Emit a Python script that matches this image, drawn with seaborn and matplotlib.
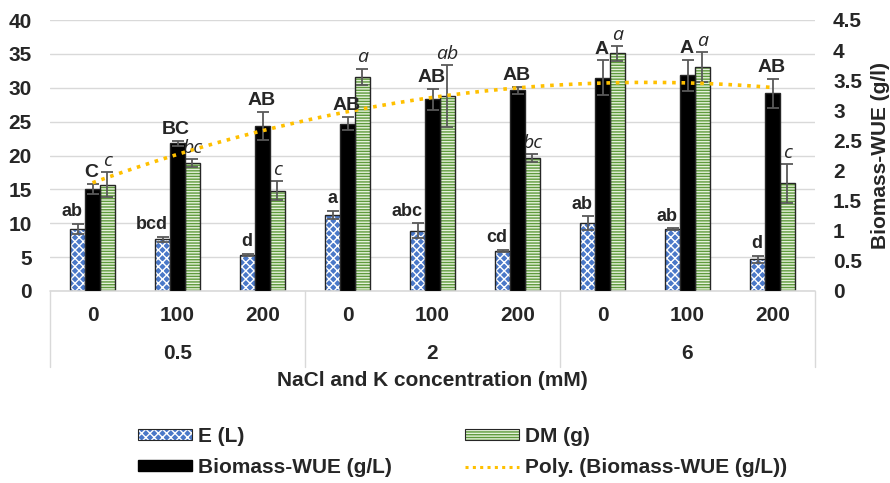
import numpy as np
import pandas as pd
import matplotlib
matplotlib.use("Agg")
import matplotlib.pyplot as plt
import seaborn as sns
from matplotlib.patches import Patch
from matplotlib.lines import Line2D
from matplotlib.transforms import blended_transform_factory
from matplotlib.colors import to_rgba

# ---------------- data ----------------
k_levels = ["0.5", "2", "6"]
nacl_levels = ["0", "100", "200"]
categories = [f"{k}|{n}" for k in k_levels for n in nacl_levels]

e_vals = [9.2, 7.65, 5.33, 11.26, 8.9, 5.93, 9.97, 9.14, 4.69]
e_err = [0.75, 0.35, 0.15, 0.6, 1.08, 0.15, 1.04, 0.15, 0.5]
dm_vals = [15.7, 18.9, 14.8, 31.6, 28.8, 19.65, 35.06, 33.1, 15.9]
dm_err = [1.85, 0.6, 1.43, 1.23, 4.6, 0.57, 1.1, 2.2, 2.9]
wue_vals = [1.695, 2.455, 2.74, 2.78, 3.18, 3.33, 3.54, 3.58, 3.28]
wue_err = [0.08, 0.04, 0.235, 0.105, 0.175, 0.055, 0.29, 0.26, 0.24]

e_letters = ["ab", "bcd", "d", "a", "abc", "cd", "ab", "ab", "d"]
wue_letters = ["C", "BC", "AB", "AB", "AB", "AB", "A", "A", "AB"]
dm_letters = ["c", "bc", "c", "a", "ab", "bc", "a", "a", "c"]

series = ["E (L)", "Biomass-WUE (g/L)", "DM (g)"]

rows = []
for i, c in enumerate(categories):
    rows.append(dict(cat=c, series=series[0], left=e_vals[i], right=np.nan))
    rows.append(dict(cat=c, series=series[1], left=np.nan, right=wue_vals[i]))
    rows.append(dict(cat=c, series=series[2], left=dm_vals[i], right=np.nan))
df = pd.DataFrame(rows)

# ---------------- style ----------------
sns.set_style("white")
plt.rcParams["font.family"] = ["Liberation Sans", "DejaVu Sans"]
plt.rcParams["font.weight"] = "bold"
plt.rcParams["hatch.linewidth"] = 1.0

E_FACE, E_HATCH = "#4a78c8", "#ffffff"
DM_FACE, DM_HATCH = "#e6f2dc", "#5e9a3c"
WUE_FACE = "#000000"
ERR_COL = "#595959"
TREND_COL = "#ffc000"
GRID_COL = "#d9d9d9"
FS = 15

fig = plt.figure(figsize=(8.9, 4.83), dpi=100)
ax = fig.add_axes([50 / 890, 1 - 291 / 483, 765 / 890, 271 / 483])
ax2 = ax.twinx()

W = 0.52
pal = {series[0]: E_FACE, series[1]: WUE_FACE, series[2]: DM_FACE}
sns.barplot(data=df, x="cat", y="left", hue="series", hue_order=series,
            order=categories, width=W, errorbar=None, palette=pal,
            legend=False, ax=ax, zorder=3)
sns.barplot(data=df, x="cat", y="right", hue="series", hue_order=series,
            order=categories, width=W, errorbar=None, palette=pal,
            legend=False, ax=ax2, zorder=3)


def set_hatch_color(p, col):
    if hasattr(p, "set_hatchcolor"):
        p.set_hatchcolor(col)
    else:
        p._hatch_color = to_rgba(col)


bw = W / 3
for a in (ax, ax2):
    for p in a.patches:
        h = p.get_height()
        if not np.isfinite(h) or h == 0:
            continue
        xc = p.get_x() + p.get_width() / 2
        off = xc - round(xc)
        p.set_edgecolor("#262626")
        p.set_linewidth(1.0)
        if off < -bw / 2:
            p.set_facecolor(E_FACE)
            p.set_hatch("xxxx")
            set_hatch_color(p, E_HATCH)
        elif off > bw / 2:
            p.set_facecolor(DM_FACE)
            p.set_hatch("------")
            set_hatch_color(p, DM_HATCH)
        else:
            p.set_facecolor(WUE_FACE)

x = np.arange(len(categories))
xe, xw, xd = x - bw, x, x + bw
ekw = dict(fmt="none", ecolor=ERR_COL, elinewidth=1.3, capsize=4, capthick=1.3, zorder=5)
ax.errorbar(xe, e_vals, yerr=e_err, **ekw)
ax.errorbar(xd, dm_vals, yerr=dm_err, **ekw)
ax2.errorbar(xw, wue_vals, yerr=wue_err, **ekw)

# polynomial (order 2) trendline of Biomass-WUE
coef = np.polyfit(x + 1, wue_vals, 2)
xt = np.linspace(0, len(categories) - 1, 200)
ax2.plot(xt, np.polyval(coef, xt + 1), color=TREND_COL, lw=2.6,
         linestyle=(0, (1, 1.6)), zorder=6)

# letters
for i in range(len(categories)):
    ax.annotate(e_letters[i], (xe[i] + bw / 2, e_vals[i] + e_err[i]),
                xytext=(-2, 2.5), textcoords="offset points", ha="right",
                va="bottom", fontsize=13, fontweight="bold", zorder=7)
    ax.annotate(dm_letters[i], (xd[i], dm_vals[i] + dm_err[i]),
                xytext=(0, 1.5), textcoords="offset points", ha="center",
                va="bottom", fontsize=14, fontweight="normal",
                fontstyle="italic", family=["Open Sans", "DejaVu Sans"], zorder=7)
    ax2.annotate(wue_letters[i], (xw[i], wue_vals[i] + wue_err[i]),
                 xytext=(-1, 2), textcoords="offset points", ha="center",
                 va="bottom", fontsize=14, fontweight="bold", zorder=7)

# axes
ax.set_xlim(-0.5, len(categories) - 0.5)
ax.set_ylim(0, 40)
ax2.set_ylim(0, 4.5)
ax.set_yticks(np.arange(0, 41, 5))
ax2.set_yticks(np.arange(0, 4.51, 0.5))
ax2.set_yticklabels([f"{v:g}" for v in np.arange(0, 4.51, 0.5)])
ax.yaxis.grid(True, color=GRID_COL, lw=1.0, zorder=0)
ax.set_axisbelow(True)
for a in (ax, ax2):
    for s in a.spines.values():
        s.set_visible(False)
    a.tick_params(length=0, labelsize=FS)
ax.tick_params(axis="y", pad=13)
ax2.tick_params(axis="y", pad=13)
ax.set_xticks(x)
ax.set_xticklabels([n for k in k_levels for n in nacl_levels])
ax.tick_params(axis="x", pad=11)
ax.set_xlabel("")
ax.set_ylabel("")
ax2.set_xlabel("")
ax2.set_ylabel("Biomass-WUE (g/l)", fontsize=FS, fontweight="bold")
ax2.yaxis.set_label_coords(1.073, 0.5)

trans = blended_transform_factory(ax.transData, ax.transAxes)
ax.plot([-0.5, 8.5], [0, 0], transform=trans, color=GRID_COL, lw=1.2,
        clip_on=False, zorder=4)
for xs in [-0.5, 2.5, 5.5, 8.5]:
    ax.plot([xs, xs], [0, -0.28], transform=trans, color=GRID_COL, lw=1.0,
            clip_on=False)
for gi, k in enumerate(k_levels):
    ax.text(gi * 3 + 1, -0.229, k, transform=trans, ha="center", va="center",
            fontsize=FS, fontweight="bold")
ax.text(0.5, -0.332, "NaCl and K concentration (mM)", transform=ax.transAxes,
        ha="center", va="center", fontsize=FS, fontweight="bold")

# legend (row-wise: E, DM / WUE, Poly)
h_e = Patch(facecolor=E_FACE, edgecolor="#262626", hatch="xxxx", lw=0.8)
set_hatch_color(h_e, E_HATCH)
h_dm = Patch(facecolor=DM_FACE, edgecolor="#262626", hatch="------", lw=0.8)
set_hatch_color(h_dm, DM_HATCH)
handles = [
    h_e,
    Patch(facecolor=WUE_FACE, edgecolor=WUE_FACE),
    h_dm,
    Line2D([0], [0], color=TREND_COL, lw=2.2, linestyle=(0, (1, 1.4))),
]
labels = ["E (L)", "Biomass-WUE (g/L)", "DM (g)", "Poly. (Biomass-WUE (g/L))"]
leg = fig.legend(handles, labels, ncol=2, frameon=False, loc="center left",
                 bbox_to_anchor=(119 / 890, 1 - 452 / 483),
                 prop=dict(size=FS, weight="bold"), handlelength=2.6,
                 handleheight=0.45, handletextpad=0.3, columnspacing=3.5,
                 labelspacing=0.6)

fig.savefig("out.png", dpi=100)
